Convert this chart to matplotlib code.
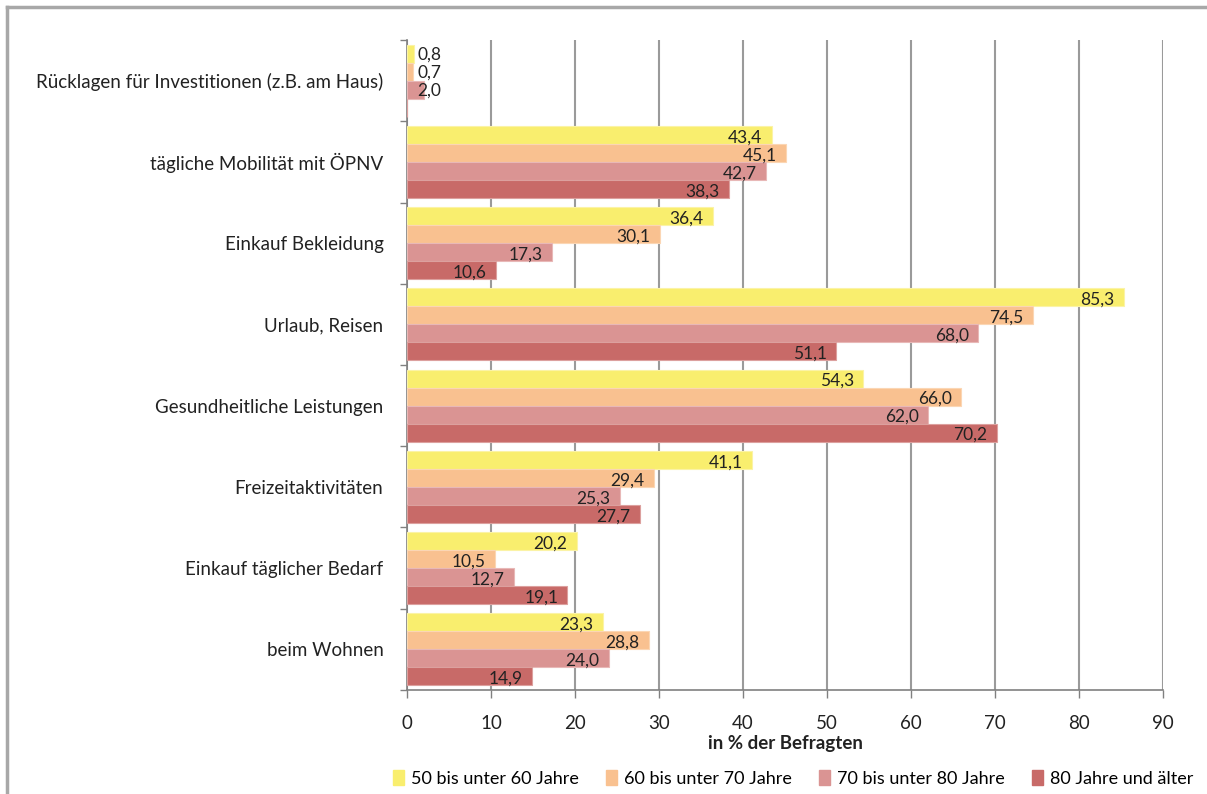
import numpy as np
import matplotlib.pyplot as plt
from matplotlib.lines import Line2D

plt.rcParams['font.family'] = ['Lato', 'DejaVu Sans']

# categories from bottom to top
categories = ["beim Wohnen", "Einkauf täglicher Bedarf", "Freizeitaktivitäten",
              "Gesundheitliche Leistungen", "Urlaub, Reisen", "Einkauf Bekleidung",
              "tägliche Mobilität mit ÖPNV", "Rücklagen für Investitionen (z.B. am Haus)"]

series_names = ["50 bis unter 60 Jahre", "60 bis unter 70 Jahre",
                "70 bis unter 80 Jahre", "80 Jahre und älter"]

v_50_60 = [23.3, 20.2, 41.1, 54.3, 85.3, 36.4, 43.4, 0.8]
v_60_70 = [28.8, 10.5, 29.4, 66.0, 74.5, 30.1, 45.1, 0.7]
v_70_80 = [24.0, 12.7, 25.3, 62.0, 68.0, 17.3, 42.7, 2.0]
v_80_plus = [14.9, 19.1, 27.7, 70.2, 51.1, 10.6, 38.3, np.nan]

colors = ["#F9EE6E", "#F9C190", "#DA9493", "#C86A68"]
edges = ["#FBF3A6", "#FBD6B4", "#E8B8B7", "#DCA09E"]

fig = plt.figure(figsize=(12.07, 7.94), dpi=100)
ax = fig.add_axes([0.3372, 0.131, 0.6264, 0.8186])

y = np.arange(len(categories))
h = 0.222
offsets = [1.5 * h, 0.5 * h, -0.5 * h, -1.5 * h]
all_vals = [v_50_60, v_60_70, v_70_80, v_80_plus]

for vals, off, c, ec, name in zip(all_vals, offsets, colors, edges, series_names):
    vals = np.array(vals, dtype=float)
    ax.barh(y + off, np.nan_to_num(vals), height=h, color=c, edgecolor=ec,
            linewidth=0.8, label=name, zorder=3)
    for yi, v in zip(y, vals):
        if np.isnan(v):
            continue
        lab = f"{v:.1f}".replace(".", ",")
        if v < 5:
            ax.text(1.2, yi + off - 0.01, lab, ha="left", va="center",
                    fontsize=12.5, color="#222222", zorder=4)
        else:
            ax.text(v - 1.1, yi + off - 0.03, lab, ha="right", va="center",
                    fontsize=12.5, color="#222222", zorder=4)

ax.set_xlim(0, 90)
ax.set_ylim(-0.5, len(categories) - 0.5)
ax.set_xticks(np.arange(0, 91, 10))
ax.xaxis.grid(True, color="#9A9A9A", linewidth=1.5, zorder=0)
ax.set_axisbelow(True)

ax.set_yticks(y)
ax.set_yticklabels(categories, fontsize=13.5, color="#222222")
ax.set_yticks(np.arange(-0.5, len(categories), 1), minor=True)
ax.tick_params(axis="y", which="major", length=0, pad=17)
ax.tick_params(axis="y", which="minor", length=5, width=1, color="#808080", direction="out")
ax.tick_params(axis="x", length=6, width=1, color="#808080", labelsize=13.5,
               labelcolor="#222222", pad=12)

for s in ["top", "right"]:
    ax.spines[s].set_visible(False)
for s in ["left", "bottom"]:
    ax.spines[s].set_color("#808080")
    ax.spines[s].set_linewidth(1.2)

ax.set_xlabel("in % der Befragten", fontsize=13.5, fontweight="bold",
              color="#222222", labelpad=2)

handles = [plt.Rectangle((0, 0), 1, 1, color=c) for c in colors]
fig.legend(handles, series_names, loc="lower right", bbox_to_anchor=(0.998, -0.005),
           ncol=4, frameon=False, fontsize=13, handlelength=0.6, handleheight=0.9,
           handletextpad=0.4, columnspacing=1.5, borderaxespad=0.2)

# chart area border
fig.add_artist(Line2D([0.006, 1.0], [0.991, 0.991], color="#A8A8A8", linewidth=2.5))
fig.add_artist(Line2D([0.006, 0.006], [0.0, 0.991], color="#A8A8A8", linewidth=2.5))

fig.savefig("out.png", dpi=100)
